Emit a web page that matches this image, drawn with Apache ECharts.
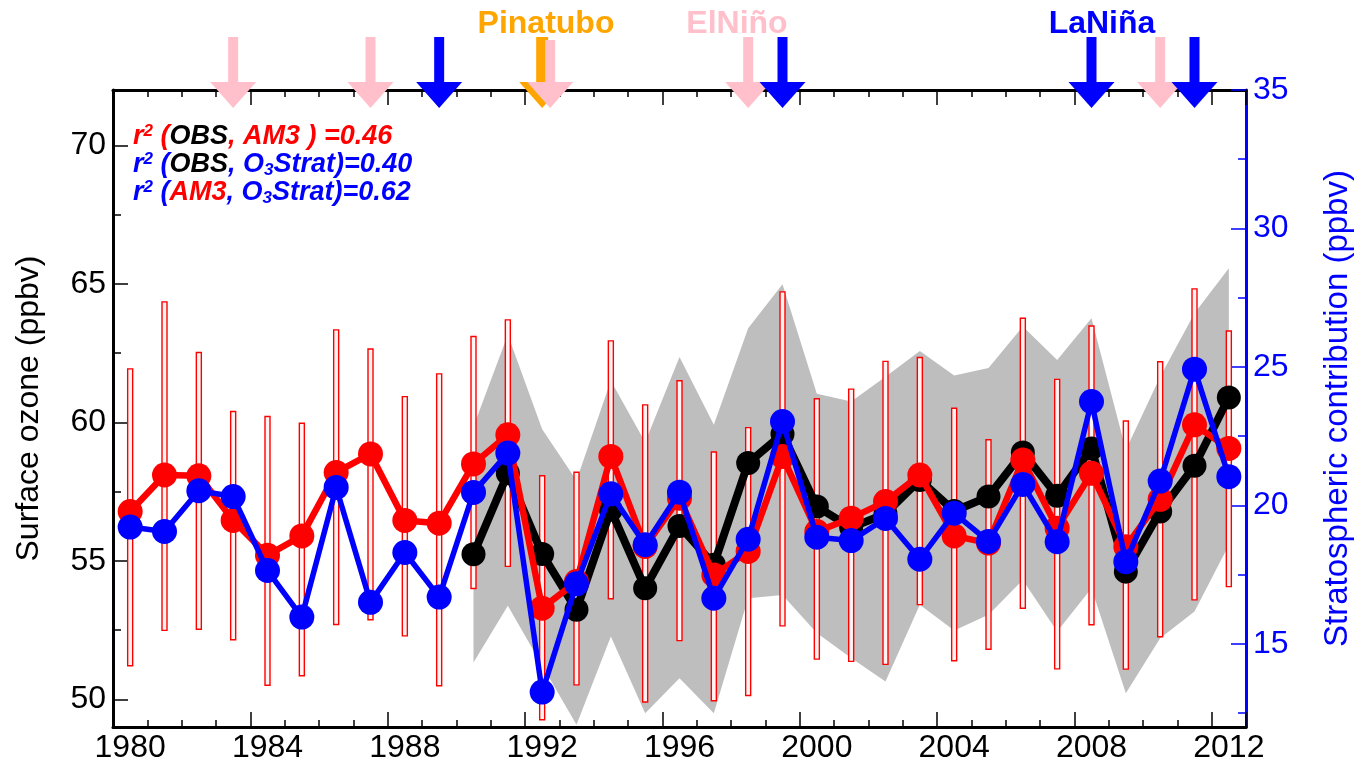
<!DOCTYPE html>
<html><head><meta charset="utf-8">
<script src="https://cdn.jsdelivr.net/npm/echarts@6/dist/echarts.min.js"></script>
<style>html,body{margin:0;padding:0;background:#fff}#c{width:1369px;height:764px}</style>
</head><body><div id="c"></div>
<script>
// ---------------- data ----------------
const years = ['1980','1981','1982','1983','1984','1985','1986','1987','1988','1989',
  '1990','1991','1992','1993','1994','1995','1996','1997','1998','1999',
  '2000','2001','2002','2003','2004','2005','2006','2007','2008','2009',
  '2010','2011','2012'];
// AM3 model surface ozone (ppbv), red
const am3 = [56.78,58.10,58.07,56.46,55.20,55.90,58.19,58.86,56.46,56.36,
  58.50,59.55,53.29,54.25,58.77,55.52,57.26,54.49,55.34,58.77,
  56.06,56.54,57.14,58.10,55.90,55.64,58.64,56.18,58.16,55.51,
  57.22,59.91,59.06];
// AM3 spread (red bars)
const am3High = [61.93,64.35,62.52,60.39,60.21,59.97,63.34,62.65,60.93,61.75,
  63.10,63.70,58.07,58.20,62.94,60.63,61.50,58.93,59.81,64.71,
  60.85,61.20,62.20,62.34,60.51,59.37,63.76,61.55,63.48,60.05,
  62.19,64.82,63.30];
const am3Low = [51.21,52.49,52.53,52.15,50.51,50.85,52.70,52.87,52.29,50.49,
  54.00,54.80,49.26,50.52,53.63,49.90,52.12,49.95,50.14,52.65,
  51.45,51.37,51.26,53.42,51.39,51.81,53.29,51.10,52.69,51.09,
  52.26,53.59,54.07];
// Observations (black), from 1990
const obs = [null,null,null,null,null,null,null,null,null,null,
  55.24,58.16,55.25,53.23,56.84,54.01,56.26,54.86,58.53,59.58,
  56.96,56.20,56.70,57.92,56.80,57.32,58.91,57.35,59.06,54.61,
  56.78,58.43,60.90];
// Observed spread (grey band)
const obsHigh = [null,null,null,null,null,null,null,null,null,null,
  59.85,63.16,59.75,57.90,61.50,59.28,62.36,59.91,63.40,64.99,
  61.03,60.75,61.65,62.58,61.69,61.96,63.46,62.25,63.76,59.00,
  61.65,63.94,65.56];
const obsLow = [null,null,null,null,null,null,null,null,null,null,
  51.33,53.38,51.22,49.08,52.27,49.50,50.76,49.50,53.65,53.77,
  52.39,51.49,50.64,53.41,52.48,53.05,54.31,52.45,54.01,50.22,
  52.20,53.17,55.57];
// O3Strat stratospheric contribution (ppbv), blue, right axis
const o3strat = [19.22,19.06,20.53,20.32,17.65,15.97,20.65,16.50,18.30,16.69,
  20.47,21.89,13.26,17.17,20.42,18.58,20.48,16.65,18.78,23.03,
  18.85,18.73,19.53,18.06,19.72,18.70,20.76,18.69,23.75,17.97,
  20.88,24.92,21.04];
// events
const pinatuboYears = ['1992'];
const elNinoYears = ['1983','1987','1992','1998','2010'];
const laNinaYears = ['1989','1999','2008','2011'];
// tick labels
const leftTicks = [50,55,60,65,70];
const leftMinor = [52.5,57.5,62.5,67.5];
const rightTicks = [15,20,25,30,35];
const rightMinor = [12.5,17.5,22.5,27.5,32.5];
const r2Lines = [
  '{r|r}{rs|2}{r| (}{k|OBS}{r|, AM3 ) =0.46}',
  '{b|r}{bs|2}{b| (}{k|OBS}{b|, O}{bsub|3}{b|Strat)=0.40}',
  '{b|r}{bs|2}{b| (}{r|AM3}{b|, O}{bsub|3}{b|Strat)=0.62}'
];

// ---------------- chart ----------------
const FONT = '"Liberation Sans", Arial, Helvetica, sans-serif';
const LMIN = 49, LMAX = 72, RMIN = 12, RMAX = 35;
const chart = echarts.init(document.getElementById('c'), null, {renderer:'canvas'});

const gridPos = {left:113, right:123, top:90, bottom:37};
function catAxis(grid, pos, tickLen, tickInterval, showLabel, showLine) {
  return {
    type:'category', gridIndex:grid, position:pos, data:years, boundaryGap:true,
    axisLine:{show:showLine, onZero:false, lineStyle:{color:'#000', width:3}},
    axisTick:{show:true, inside:true, length:tickLen, interval:tickInterval, lineStyle:{color:'#000', width:1.5}},
    axisLabel:{show:showLabel, interval:3, color:'#000', fontSize:32, fontFamily:FONT, margin:5},
    splitLine:{show:false}
  };
}
function valAxis(grid, pos, min, max, ticks, len, color, showLabel, showLine, name, gap, nameSize) {
  const a = {
    type:'value', gridIndex:grid, position:pos, min:min, max:max, scale:true,
    axisLine:{show:showLine, lineStyle:{color:color, width:3}},
    axisTick:{show:true, inside:true, length:len, customValues:ticks, lineStyle:{color:color, width:1.5}},
    axisLabel:{show:showLabel, customValues:ticks, color:color, fontSize:32, fontFamily:FONT, margin:7},
    splitLine:{show:false}
  };
  if (name) {
    a.name = name; a.nameLocation = 'middle'; a.nameGap = gap; a.nameRotate = 90;
    a.nameTextStyle = {color:color, fontSize:nameSize, fontFamily:FONT};
  }
  return a;
}

const arrowData = [];
pinatuboYears.forEach(y => arrowData.push([years.indexOf(y), 0, 0]));
elNinoYears.forEach(y => arrowData.push([years.indexOf(y), 1, pinatuboYears.includes(y) ? 1 : 0]));
laNinaYears.forEach(y => arrowData.push([years.indexOf(y), 2, 0]));
const arrowColors = ['#FFA500', '#FFC0CB', '#0000FF'];

const barData = years.map((y, i) => [i, am3Low[i], am3High[i]]);

const mainFont = 'italic bold 27px ' + FONT;
const smallFont = 'italic bold 17px ' + FONT;
const rich = {
  r:   {fill:'#FF0000', font:mainFont, lineHeight:28},
  rs:  {fill:'#FF0000', font:smallFont, lineHeight:17, verticalAlign:'top'},
  k:   {fill:'#000000', font:mainFont, lineHeight:28},
  b:   {fill:'#0000FF', font:mainFont, lineHeight:28},
  bs:  {fill:'#0000FF', font:smallFont, lineHeight:17, verticalAlign:'top'},
  bsub:{fill:'#0000FF', font:smallFont, lineHeight:17, verticalAlign:'bottom'}
};

const option = {
  animation:false,
  backgroundColor:'#fff',
  grid:[Object.assign({}, gridPos), Object.assign({}, gridPos)],
  xAxis:[
    catAxis(0, 'bottom', 7, 0, true, true),
    catAxis(0, 'top', 7, 0, false, true),
    catAxis(1, 'bottom', 15, 3, false, false),
    catAxis(1, 'top', 15, 3, false, false)
  ],
  yAxis:[
    valAxis(0, 'left', LMIN, LMAX, leftTicks, 15, '#000', true, true, 'Surface ozone (ppbv)', 68, 32),
    valAxis(0, 'right', RMIN, RMAX, rightTicks, 15, '#0000FF', true, true, 'Stratospheric contribution (ppbv)', 75, 33),
    valAxis(1, 'left', LMIN, LMAX, leftMinor, 8, '#000', false, false),
    valAxis(1, 'right', RMIN, RMAX, rightMinor, 8, '#0000FF', false, false)
  ],
  series:[
    { // grey observed band
      type:'custom', xAxisIndex:0, yAxisIndex:0, z:1, clip:false, silent:true,
      data:[[10, 60]],
      renderItem:function(params, api){
        const top = [], bot = [];
        for (let i = 0; i < years.length; i++) {
          if (obsHigh[i] == null) continue;
          top.push(api.coord([i, obsHigh[i]]));
          bot.push(api.coord([i, obsLow[i]]));
        }
        return {type:'polygon', shape:{points:top.concat(bot.reverse())}, style:{fill:'#BEBEBE'}};
      }
    },
    { // red spread bars
      type:'custom', xAxisIndex:0, yAxisIndex:0, z:2, clip:false, silent:true,
      data:barData,
      renderItem:function(params, api){
        const hi = api.coord([api.value(0), api.value(2)]);
        const lo = api.coord([api.value(0), api.value(1)]);
        return {type:'rect', shape:{x:hi[0]-2.5, y:hi[1], width:5, height:lo[1]-hi[1]},
          style:{fill:'#FFF4F4', stroke:'#FF0000', lineWidth:1.4}};
      }
    },
    {
      type:'line', name:'OBS', xAxisIndex:0, yAxisIndex:0, z:3, data:obs,
      symbol:'circle', symbolSize:24, showAllSymbol:true, connectNulls:false,
      lineStyle:{color:'#000', width:8}, itemStyle:{color:'#000'}, emphasis:{disabled:true}, silent:true
    },
    {
      type:'line', name:'AM3', xAxisIndex:0, yAxisIndex:0, z:4, data:am3,
      symbol:'circle', symbolSize:25, showAllSymbol:true,
      lineStyle:{color:'#FF0000', width:6.5}, itemStyle:{color:'#FF0000'}, emphasis:{disabled:true}, silent:true
    },
    {
      type:'line', name:'O3Strat', xAxisIndex:0, yAxisIndex:1, z:5, data:o3strat,
      symbol:'circle', symbolSize:25, showAllSymbol:true,
      lineStyle:{color:'#0000FF', width:5.5}, itemStyle:{color:'#0000FF'}, emphasis:{disabled:true}, silent:true
    },
    { // event arrows
      type:'custom', xAxisIndex:0, yAxisIndex:0, z:6, clip:false, silent:true,
      data:arrowData,
      renderItem:function(params, api){
        const p = api.coord([api.value(0), LMAX]);
        const top = params.coordSys.y;
        const kind = api.value(1);
        const cx = p[0] + (api.value(2) ? 8 : 0);
        const col = arrowColors[kind];
        const sw = kind === 0 ? 12 : 10;
        const sTop = top - 53 + (api.value(2) ? 3 : 0);
        return {type:'group', children:[
          {type:'rect', shape:{x:cx - sw/2, y:sTop, width:sw, height:top - 7 - sTop}, style:{fill:col}},
          {type:'polygon', shape:{points:[[cx-23, top-8],[cx+23, top-8],[cx, top+18]]}, style:{fill:col}}
        ]};
      }
    }
  ],
  graphic:[
    {type:'text', x:546, y:24, style:{text:'Pinatubo', fill:'#FFA500', font:'bold 32px ' + FONT, align:'center', verticalAlign:'middle'}},
    {type:'text', x:737, y:24, style:{text:'ElNiño', fill:'#FFC0CB', font:'bold 32px ' + FONT, align:'center', verticalAlign:'middle'}},
    {type:'text', x:1102, y:24, style:{text:'LaNiña', fill:'#0000FF', font:'bold 32px ' + FONT, align:'center', verticalAlign:'middle'}},
    {type:'text', x:133, y:123, style:{text:r2Lines.join('\n'), rich:rich, align:'left', verticalAlign:'top'}}
  ]
};
chart.setOption(option);
</script>
</body></html>
